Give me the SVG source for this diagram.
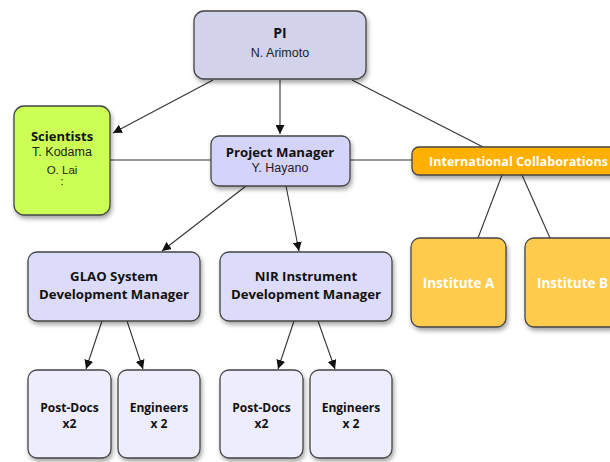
<svg xmlns="http://www.w3.org/2000/svg" width="610" height="462" viewBox="0 0 610 462">
  <defs>
    <filter id="shadow" x="-20%" y="-20%" width="140%" height="150%">
      <feDropShadow dx="1.5" dy="3" stdDeviation="2" flood-color="#000" flood-opacity="0.35"/>
    </filter>
    <marker id="arrow" viewBox="0 0 10 10" refX="10" refY="5" markerWidth="9" markerHeight="9" markerUnits="userSpaceOnUse" orient="auto">
      <path d="M0,0 L10,5 L0,10 z" fill="#111"/>
    </marker>
    <style>
      .box { stroke: #444; stroke-width: 1.3; filter: url(#shadow); }
      .lav1 { fill: #d2d2ea; }
      .lav2 { fill: #d4d4fb; }
      .lav3 { fill: #dcdcfa; }
      .lav4 { fill: #ededfd; }
      .lime { fill: #ccff55; }
      .orange { fill: #ffb000; }
      .gold { fill: #ffcb4e; }
      .b { font-family: "Open Sans", Lato, "Liberation Sans", sans-serif; font-weight: bold; fill: #111; text-anchor: middle; }
      .r { font-family: "Liberation Sans", Arial, sans-serif; fill: #222; text-anchor: middle; }
      .w { fill: #fff; }
      .conn line { stroke: #333; stroke-width: 1.1; }
      .conn .arr { marker-end: url(#arrow); }
    </style>
  </defs>

  <g class="conn">
    <line class="arr" x1="213" y1="80" x2="113" y2="133"/>
    <line class="arr" x1="280" y1="80" x2="280" y2="134"/>
    <line x1="352" y1="80" x2="483" y2="147"/>
    <line x1="110" y1="160" x2="212" y2="160"/>
    <line x1="350" y1="160" x2="412" y2="160"/>
    <line class="arr" x1="246" y1="186" x2="162" y2="251"/>
    <line class="arr" x1="286" y1="186" x2="299" y2="251"/>
    <line x1="502" y1="175" x2="478" y2="238"/>
    <line x1="522" y1="175" x2="550" y2="238"/>
    <line class="arr" x1="102" y1="321" x2="86" y2="369"/>
    <line class="arr" x1="127" y1="321" x2="143" y2="369"/>
    <line class="arr" x1="294" y1="321" x2="278" y2="369"/>
    <line class="arr" x1="318" y1="321" x2="335" y2="369"/>
  </g>

  <g id="pi">
    <rect class="box lav1" x="194" y="11" width="172" height="68" rx="10"/>
    <text class="b" x="280" y="38" font-size="14">PI</text>
    <text class="r" x="280" y="57" font-size="12.5">N. Arimoto</text>
  </g>

  <g id="scientists">
    <rect class="box lime" x="14" y="106" width="96" height="109" rx="10"/>
    <text class="b" x="62" y="141" font-size="13">Scientists</text>
    <text class="r" x="62" y="156" font-size="12.5">T. Kodama</text>
    <text class="r" x="62" y="174" font-size="11.5">O. Lai</text>
    <text class="r" x="62" y="185" font-size="11">:</text>
  </g>

  <g id="project-manager">
    <rect class="box lav2" x="211" y="136" width="139" height="50" rx="8"/>
    <text class="b" x="280" y="157" font-size="13.2">Project Manager</text>
    <text class="r" x="280" y="172" font-size="12.5">Y. Hayano</text>
  </g>

  <g id="intl-collab">
    <rect class="box orange" x="412" y="147" width="210" height="28" rx="7"/>
    <text class="b w" x="429" y="166" font-size="12.6" style="text-anchor:start">International Collaborations</text>
  </g>

  <g id="institute-a">
    <rect class="box gold" x="411" y="238" width="95" height="89" rx="9"/>
    <text class="b w" x="458.5" y="288" font-size="13.5">Institute A</text>
  </g>

  <g id="institute-b">
    <rect class="box gold" x="525" y="238" width="95" height="89" rx="9"/>
    <text class="b w" x="572.5" y="288" font-size="13.5">Institute B</text>
  </g>

  <g id="glao-manager">
    <rect class="box lav3" x="28" y="252" width="172" height="69" rx="9"/>
    <text class="b" x="114" y="281" font-size="13.2">GLAO System</text>
    <text class="b" x="114" y="299" font-size="13.2">Development Manager</text>
  </g>

  <g id="nir-manager">
    <rect class="box lav3" x="220" y="252" width="172" height="69" rx="9"/>
    <text class="b" x="306" y="281" font-size="13.2">NIR Instrument</text>
    <text class="b" x="306" y="299" font-size="13.2">Development Manager</text>
  </g>

  <g id="glao-postdocs">
    <rect class="box lav4" x="28" y="370" width="83" height="88" rx="9"/>
    <text class="b" x="69.5" y="412" font-size="12">Post-Docs</text>
    <text class="b" x="69.5" y="428" font-size="12">x2</text>
  </g>

  <g id="glao-engineers">
    <rect class="box lav4" x="118" y="370" width="82" height="88" rx="9"/>
    <text class="b" x="159" y="412" font-size="12">Engineers</text>
    <text class="b" x="159" y="428" font-size="12">x 2</text>
  </g>

  <g id="nir-postdocs">
    <rect class="box lav4" x="220" y="370" width="83" height="88" rx="9"/>
    <text class="b" x="261.5" y="412" font-size="12">Post-Docs</text>
    <text class="b" x="261.5" y="428" font-size="12">x2</text>
  </g>

  <g id="nir-engineers">
    <rect class="box lav4" x="310" y="370" width="82" height="88" rx="9"/>
    <text class="b" x="351" y="412" font-size="12">Engineers</text>
    <text class="b" x="351" y="428" font-size="12">x 2</text>
  </g>
</svg>
